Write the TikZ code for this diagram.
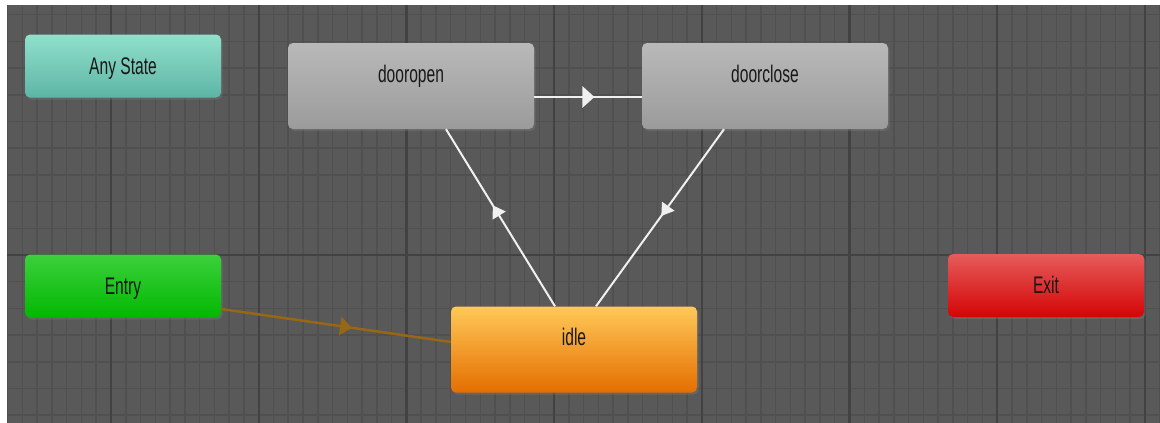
\documentclass[tikz,border=0pt]{standalone}
\usepackage{fontspec}
\setmainfont{Liberation Sans}
\usepackage{graphicx}
\usetikzlibrary{arrows.meta,shadows,decorations.markings}

\definecolor{bgcol}{RGB}{89,89,89}
\definecolor{minorcol}{RGB}{80,80,80}
\definecolor{majorcol}{RGB}{66,66,66}
\definecolor{txtcol}{RGB}{24,24,24}
\definecolor{anytop}{RGB}{144,224,203}
\definecolor{anybot}{RGB}{94,181,165}
\definecolor{graytop}{RGB}{185,185,185}
\definecolor{graybot}{RGB}{155,155,155}
\definecolor{entrytop}{RGB}{60,208,60}
\definecolor{entrybot}{RGB}{2,184,2}
\definecolor{exittop}{RGB}{230,92,92}
\definecolor{exitbot}{RGB}{212,4,4}
\definecolor{idletop}{RGB}{255,201,88}
\definecolor{idlebot}{RGB}{228,110,0}
\definecolor{transcol}{RGB}{240,240,240}
\definecolor{entrytrans}{RGB}{150,104,20}

\newcommand\sname[1]{\scalebox{0.65}[1]{#1}}

\tikzset{
  state/.style={rounded corners=5pt, inner sep=0pt, minimum width=196pt, minimum height=63pt,
    text height=16pt, text depth=0pt, font=\fontsize{24}{28}\selectfont, text=txtcol,
    drop shadow={shadow xshift=1.5pt, shadow yshift=-2pt, opacity=.35}},
  bigstate/.style={state, minimum width=246pt, text height=39pt, text depth=47pt},
  midarrow/.style 2 args={postaction={decorate}, decoration={markings,
    mark=at position #1 with {\arrow{Triangle[length=12pt,width=#2]}}}},
  trans/.style={color=transcol, line width=2pt},
  minorline/.style={minorcol, line width=1.5pt},
  majorline/.style={majorcol, line width=2.2pt}
}

\begin{document}
\begin{tikzpicture}[x=1pt, y=-1pt]
    \useasboundingbox (0,0) rectangle (1160,423);
    \fill[bgcol] (7,5) rectangle (1160,423);
    \begin{scope}
    \clip (7,5) rectangle (1160,423);
    \foreach \k in {-7,...,71}
      \draw[minorline] ({111+\k*14.77},5) -- ({111+\k*14.77},423);
    \foreach \k in {-9,...,6}
      \draw[minorline] (7,{255+\k*26.7}) -- (1160,{255+\k*26.7});
    \foreach \m in {0,...,7}
      \draw[majorline] ({111+\m*147.7},5) -- ({111+\m*147.7},423);
    \draw[majorline] (7,255) -- (1160,255);
    \end{scope}

    \node[state, top color=anytop, bottom color=anybot] (anystate) at (123,66) {\sname{Any State}};
    \node[bigstate, top color=graytop, bottom color=graybot] (dooropen) at (411,86) {\sname{dooropen}};
    \node[bigstate, top color=graytop, bottom color=graybot] (doorclose) at (765,86) {\sname{doorclose}};
    \node[state, top color=entrytop, bottom color=entrybot] (entry) at (123,286) {\sname{Entry}};
    \node[state, top color=exittop, bottom color=exitbot] (exit) at (1046,285.5) {\sname{Exit}};
    \node[bigstate, top color=idletop, bottom color=idlebot] (idle) at (574,349.5) {\sname{idle}};

    \draw[trans, line width=2.5pt, midarrow={.56}{21pt}] ([yshift=-11pt]dooropen.east) -- ([yshift=-11pt]doorclose.west);
    \draw[trans, midarrow={.57}{15pt}] ([xshift=-19pt]idle.north) -- ([xshift=35pt]dooropen.south);
    \draw[trans, midarrow={.49}{15pt}] ([xshift=-41pt]doorclose.south) -- ([xshift=22pt]idle.north);
    \draw[color=entrytrans, line width=2.5pt, midarrow={.57}{18pt}] ([yshift=-23pt]entry.east) -- ([yshift=7.5pt]idle.west);
\end{tikzpicture}
\end{document}
